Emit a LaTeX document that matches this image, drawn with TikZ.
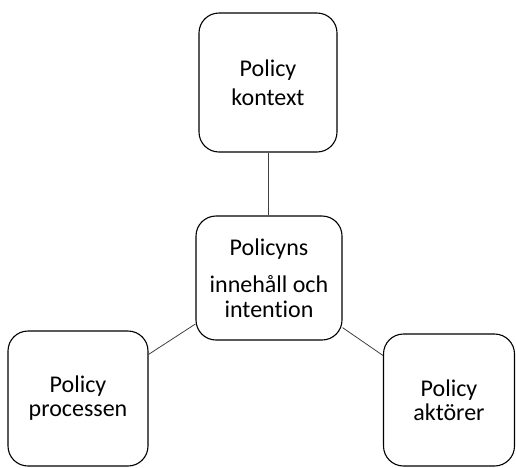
\documentclass[tikz,border=0pt]{standalone}
\usepackage{fontspec}
\setmainfont{Carlito}[Ligatures=NoCommon]
\begin{document}
\begin{tikzpicture}[x=1pt, y=1pt, font=\fontsize{24}{29}\selectfont,
        box/.style={draw, line width=1.1pt, rounded corners=20pt, align=center, inner sep=0pt},
        link/.style={draw=black!75, line width=0.8pt}]
        \useasboundingbox (0,0) rectangle (516,-467);
        \node[box, minimum width=138pt, minimum height=139pt] (kontext) at (268,-82.5) {Policy\\kontext};
        \node[box, minimum width=146pt, minimum height=124pt] (innehall) at (269,-278) 
            {Policyns\\[8pt]innehåll och\\[-4pt]intention};
        \node[box, minimum width=140pt, minimum height=135pt, font=\fontsize{24}{24}\selectfont] (processen) at (78,-398.5) 
            {Policy\\processen};
        \node[box, minimum width=131pt, minimum height=132pt, font=\fontsize{24}{24}\selectfont] (aktorer) at (449,-400) 
            {Policy\\aktörer};
        \draw[link] (kontext.south) -- (kontext.south |- innehall.north);
        \draw[link] (innehall.212.8) -- (processen.32);
        \draw[link] (innehall.-34) -- (aktorer.146);
        \end{tikzpicture}
\end{document}
